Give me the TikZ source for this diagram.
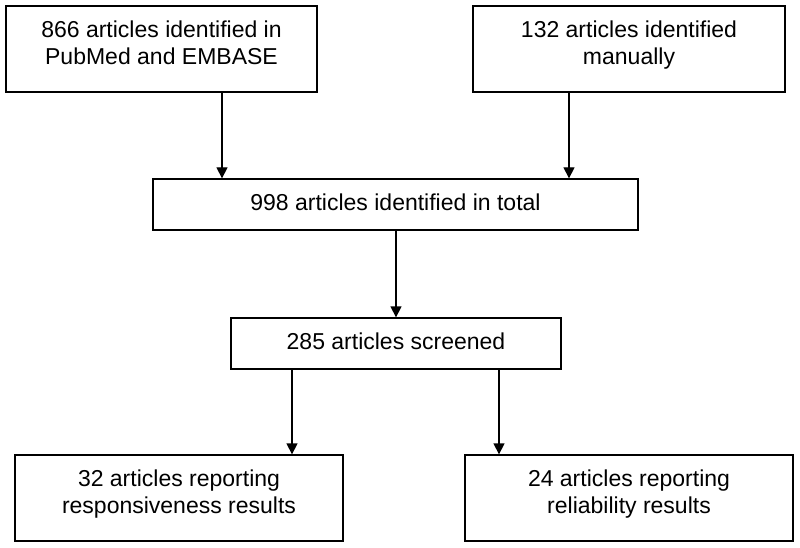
\documentclass[tikz,border=0pt]{standalone}
\usepackage{fontspec}
\setmainfont{Liberation Sans}
\usetikzlibrary{arrows.meta}
\begin{document}
\begin{tikzpicture}[x=1pt,y=-1pt,
  box/.style={draw=black, line width=1.3pt, inner sep=0pt, fill=white},
  txt/.style={anchor=north, inner sep=0pt, align=center, font=\fontsize{23}{27.5}\selectfont},
  arr/.style={line width=1.3pt, -{Triangle[length=11pt,width=11pt]}}]
\useasboundingbox (0,0) rectangle (800,548);
\fill[white] (0,0) rectangle (800,548);
% boxes
\node[box, minimum width=311pt, minimum height=86pt] (b1) at (161.5,49) {};
\node[box, minimum width=312pt, minimum height=86pt] (b2) at (629,49) {};
\node[box, minimum width=485pt, minimum height=51pt] (b3) at (395.5,204.5) {};
\node[box, minimum width=330pt, minimum height=51pt] (b4) at (396,343.5) {};
\node[box, minimum width=328pt, minimum height=86pt] (b5) at (179,498) {};
\node[box, minimum width=328pt, minimum height=86pt] (b6) at (629,498) {};
% texts
\node[txt] (t1) at ([yshift=-15pt]b1.north) {866 articles identified in\\PubMed and EMBASE};
\node[txt] (t2) at ([yshift=-15pt]b2.north) {132 articles identified\\manually};
\node[txt] (t3) at ([yshift=-15pt]b3.north) {998 articles identified in total};
\node[txt] (t4) at ([yshift=-15pt]b4.north) {285 articles screened};
\node[txt] (t5) at ([yshift=-15pt]b5.north) {32 articles reporting\\responsiveness results};
\node[txt] (t6) at ([yshift=-15pt]b6.north) {24 articles reporting\\reliability results};
% arrow columns
\coordinate (c1) at (222,0);
\coordinate (c2) at (569,0);
\coordinate (c3) at (396,0);
\coordinate (c4) at (292,0);
\coordinate (c5) at (499,0);
\draw[arr] (b1.south -| c1) -- (b3.north -| c1);
\draw[arr] (b2.south -| c2) -- (b3.north -| c2);
\draw[arr] (b3.south -| c3) -- (b4.north -| c3);
\draw[arr] (b4.south -| c4) -- (b5.north -| c4);
\draw[arr] (b4.south -| c5) -- (b6.north -| c5);
\end{tikzpicture}
\end{document}
